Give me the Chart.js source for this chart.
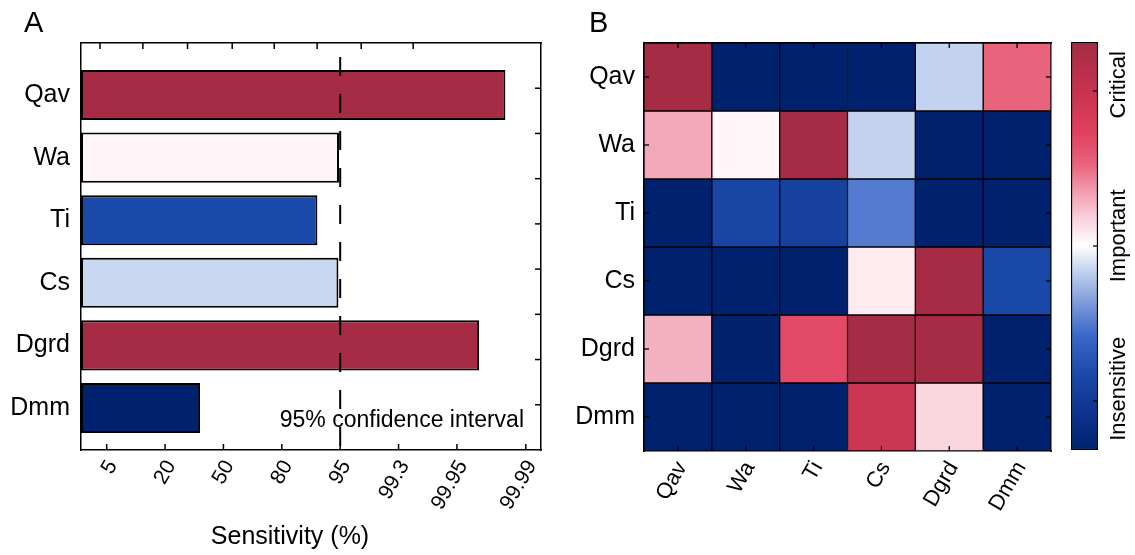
<!DOCTYPE html>
<html>
<head>
<meta charset="utf-8">
<script src="https://cdn.jsdelivr.net/npm/chart.js@4.4.1/dist/chart.umd.min.js"></script>
<style>
  html, body { margin: 0; padding: 0; background: #fff; }
  #wrap { position: relative; width: 1135px; height: 555px; overflow: hidden;
          font-family: "Liberation Sans", Arial, Helvetica, sans-serif; color: #000; }
  #wrap canvas { position: absolute; top: 0; }
  .panel { position: absolute; font-size: 29px; line-height: 29px; }
  #conf { position: absolute; left: 0; width: 524px; top: 408px; text-align: right;
          font-size: 23px; line-height: 23px; }
</style>
</head>
<body>
<div id="wrap">
  <canvas id="cA" width="580" height="555" style="left:0;width:580px;height:555px"></canvas>
  <canvas id="cB" width="502" height="555" style="left:560px;width:502px;height:555px"></canvas>
  <canvas id="cC" width="73" height="555" style="left:1062px;width:73px;height:555px"></canvas>
  <div class="panel" style="left:24px;top:8px">A</div>
  <div class="panel" style="left:589px;top:8px">B</div>
  <div id="conf">95% confidence interval</div>
</div>
<script>
// ---------------- DATA ----------------
const params = ['Qav', 'Wa', 'Ti', 'Cs', 'Dgrd', 'Dmm'];

// Panel A: sensitivity, expressed in position units of the (probability-type) sensitivity axis
const sensitivity = [6.83, 3.98, 3.61, 3.97, 6.38, 1.60];
const sensTickPos = [0, 1, 2, 3, 4, 5, 6, 7.18];
const sensTickLabels = ['5', '20', '50', '80', '95', '99.3', '99.95', '99.99'];
const topTickPos = [-0.115, 0.62, 1.385, 2.15, 2.87, 3.605, 4.36, 5.25];
const rightTickPos = [1, 2, 3, 4, 5, 6, 7, 8];
const confLevel = 4;              // position of the 95 % mark

// Panel B: heat-map (rows = params, columns = params), 0 = insensitive, 0.5 = important, 1 = critical
const heatQav  = [1.00, 0.00, 0.00, 0.00, 0.44, 0.70];
const heatWa   = [0.62, 0.515, 1.00, 0.44, 0.00, 0.00];
const heatTi   = [0.00, 0.17, 0.15, 0.31, 0.00, 0.00];
const heatCs   = [0.00, 0.00, 0.00, 0.53, 1.00, 0.18];
const heatDgrd = [0.61, 0.00, 0.76, 1.00, 1.00, 0.00];
const heatDmm  = [0.00, 0.00, 0.00, 0.86, 0.56, 0.00];
const heatRows = [heatQav, heatWa, heatTi, heatCs, heatDgrd, heatDmm];
const cellPos = [0.5, 1.5, 2.5, 3.5, 4.5, 5.5];

const cbarTickPos = [0.12, 0.5, 0.88];
const cbarLabels = ['Insensitive', 'Important', 'Critical'];
const cbarLabelPos = [0.15, 0.525, 0.895];

// ---------------- STYLE ----------------
const FONT = '"Liberation Sans", Arial, Helvetica, sans-serif';
const barColors = ['#A52C44', '#FFF5F8', '#1A4BAA', '#C8D8F0', '#A52C44', '#00226E'];
const cmapStops = [
  [0.00, '#00226E'], [0.10, '#0E3591'], [0.18, '#1A48A8'], [0.28, '#3A68C8'],
  [0.36, '#7D9ADA'], [0.44, '#C3D3EF'], [0.50, '#FFFFFF'], [0.56, '#FAD6E1'],
  [0.62, '#F2A8BA'], [0.70, '#E8647D'], [0.78, '#E0405E'], [0.88, '#C6334F'],
  [1.00, '#A52C44']
];
function hex2rgb(h) { return [1, 3, 5].map(i => parseInt(h.substr(i, 2), 16)); }
function cmap(t) {
  t = Math.max(0, Math.min(1, t));
  for (let i = 1; i < cmapStops.length; i++) {
    const [t1, c1] = cmapStops[i];
    const [t0, c0] = cmapStops[i - 1];
    if (t <= t1) {
      const f = (t - t0) / (t1 - t0 || 1);
      const a = hex2rgb(c0), b = hex2rgb(c1);
      const c = a.map((v, k) => Math.round(v + (b[k] - v) * f));
      return `rgb(${c[0]},${c[1]},${c[2]})`;
    }
  }
  return cmapStops[cmapStops.length - 1][1];
}

// axis extents (layout)
const X_MIN = -0.44, X_MAX = 7.44;
const Y_MIN = -0.831, Y_MAX = 5.671;

// inward tick marks
const inTicks = {
  id: 'inTicks',
  afterDatasetsDraw(chart, args, opts) {
    const ctx = chart.ctx;
    const len = opts.length || 6;
    ctx.save();
    ctx.strokeStyle = '#000';
    ctx.lineWidth = opts.width || 1.5;
    for (const id of (opts.scales || [])) {
      const s = chart.scales[id];
      if (!s) continue;
      for (const t of s.ticks) {
        const p = s.getPixelForValue(t.value);
        ctx.beginPath();
        if (s.position === 'bottom') { ctx.moveTo(p, s.top); ctx.lineTo(p, s.top - len); }
        else if (s.position === 'top') { ctx.moveTo(p, s.bottom); ctx.lineTo(p, s.bottom + len); }
        else if (s.position === 'left') { ctx.moveTo(s.right, p); ctx.lineTo(s.right + len, p); }
        else { ctx.moveTo(s.left, p); ctx.lineTo(s.left - len, p); }
        ctx.stroke();
      }
    }
    ctx.restore();
  }
};

const noGrid = { display: false, drawTicks: false };
const blackBorder = { display: true, color: '#000', width: 1.5 };

// ---------------- PANEL A ----------------
new Chart(document.getElementById('cA'), {
  type: 'bar',
  data: {
    datasets: [
      {
        type: 'bar', indexAxis: 'y',
        data: params.map((p, i) => ({ x: sensitivity[i], y: i })),
        base: X_MIN,
        backgroundColor: barColors, borderColor: '#000', borderWidth: 2, borderSkipped: false,
        barPercentage: 0.8, categoryPercentage: 1,
        xAxisID: 'x', yAxisID: 'y', order: 2
      },
      {
        type: 'line',
        data: [{ x: confLevel, y: Y_MIN }, { x: confLevel, y: Y_MAX }],
        borderColor: '#000', borderWidth: 2, borderDash: [19, 18], borderDashOffset: 23,
        pointRadius: 0, xAxisID: 'x', yAxisID: 'y', order: 1
      }
    ]
  },
  options: {
    responsive: false, animation: false, events: [],
    layout: { padding: 0 },
    scales: {
      x: {
        type: 'linear', axis: 'x', position: 'bottom', min: X_MIN, max: X_MAX, offset: false,
        afterBuildTicks: s => { s.ticks = sensTickPos.map(v => ({ value: v })); },
        afterFit: s => { s.height = 72; },
        ticks: { autoSkip: false, minRotation: 60, maxRotation: 60, padding: 6, labelOffset: 6,
                 color: '#000', font: { family: FONT, size: 21 }, callback: (v, i) => sensTickLabels[i] },
        grid: noGrid, border: blackBorder
      },
      x2: {
        type: 'linear', axis: 'x', position: 'top', min: X_MIN, max: X_MAX, offset: false,
        afterBuildTicks: s => { s.ticks = topTickPos.map(v => ({ value: v })); },
        afterFit: s => { s.height = 43; },
        ticks: { display: false }, grid: noGrid, border: blackBorder
      },
      y: {
        type: 'linear', axis: 'y', position: 'left', reverse: true, min: Y_MIN, max: Y_MAX, offset: false,
        afterBuildTicks: s => { s.ticks = params.map((p, i) => ({ value: i })); },
        afterFit: s => { s.width = 81; },
        ticks: { padding: 11, color: '#000', font: { family: FONT, size: 25 }, callback: (v, i) => params[i] },
        grid: noGrid, border: blackBorder
      },
      y2: {
        type: 'linear', axis: 'y', position: 'right', min: 0, max: 9, offset: false,
        afterBuildTicks: s => { s.ticks = rightTickPos.map(v => ({ value: v })); },
        afterFit: s => { s.width = 39; },
        ticks: { display: false }, grid: noGrid, border: blackBorder
      }
    },
    plugins: {
      legend: { display: false }, tooltip: { enabled: false },
      title: { display: true, position: 'bottom', text: 'Sensitivity (%)', color: '#000',
               font: { family: FONT, size: 25, weight: 'normal' }, padding: { top: 0, bottom: 3 } },
      inTicks: { scales: ['x', 'x2', 'y2'], length: 6, width: 1.5 }
    }
  },
  plugins: [inTicks]
});

// ---------------- PANEL B (heat map) ----------------
new Chart(document.getElementById('cB'), {
  type: 'bar',
  data: {
    labels: params,
    datasets: params.map((row, r) => ({
      label: row,
      data: params.map(() => 1),
      backgroundColor: heatRows[r].map(cmap),
      borderColor: '#000', borderWidth: 1, borderSkipped: false,
      barPercentage: 1, categoryPercentage: 1, stack: 'cells'
    }))
  },
  options: {
    responsive: false, animation: false, events: [],
    layout: { padding: 0 },
    scales: {
      x: {
        type: 'category', position: 'bottom', offset: true, stacked: true,
        afterFit: s => { s.height = 104; },
        ticks: { autoSkip: false, minRotation: 60, maxRotation: 60, padding: 6, labelOffset: 4,
                 color: '#000', font: { family: FONT, size: 22 } },
        grid: { display: false, drawTicks: false, offset: true }, border: blackBorder
      },
      x2: {
        type: 'category', axis: 'x', position: 'top', offset: true, labels: params,
        afterFit: s => { s.height = 43; },
        ticks: { display: false }, grid: { display: false, drawTicks: false, offset: true }, border: blackBorder
      },
      y: {
        type: 'linear', position: 'left', reverse: true, min: 0, max: 6, stacked: true,
        afterBuildTicks: s => { s.ticks = cellPos.map(v => ({ value: v })); },
        afterFit: s => { s.width = 84; },
        ticks: { padding: 9, color: '#000', font: { family: FONT, size: 25 }, callback: (v, i) => params[i] },
        grid: noGrid, border: blackBorder
      },
      y2: {
        type: 'linear', axis: 'y', position: 'right', reverse: true, min: 0, max: 6,
        afterBuildTicks: s => { s.ticks = cellPos.map(v => ({ value: v })); },
        afterFit: s => { s.width = 11; },
        ticks: { display: false }, grid: noGrid, border: blackBorder
      }
    },
    plugins: {
      legend: { display: false }, tooltip: { enabled: false },
      inTicks: { scales: ['x', 'x2', 'y', 'y2'], length: 5, width: 1.3 }
    }
  },
  plugins: [inTicks]
});

// ---------------- COLOUR BAR ----------------
const cbarText = {
  id: 'cbarText',
  afterDraw(chart, args, opts) {
    const s = chart.scales.y;
    const ctx = chart.ctx;
    ctx.save();
    ctx.fillStyle = '#000';
    ctx.font = `22px ${FONT}`;
    ctx.textAlign = 'center';
    ctx.textBaseline = 'middle';
    cbarLabels.forEach((lab, i) => {
      const y = s.getPixelForValue(cbarLabelPos[i]);
      ctx.save();
      ctx.translate(s.left + 21, y);
      ctx.rotate(-Math.PI / 2);
      ctx.fillText(lab, 0, 0);
      ctx.restore();
    });
    ctx.restore();
  }
};

new Chart(document.getElementById('cC'), {
  type: 'bar',
  data: {
    labels: [''],
    datasets: [{
      data: [[0, 1]],
      backgroundColor: (c) => {
        const area = c.chart.chartArea;
        if (!area) return '#fff';
        const g = c.chart.ctx.createLinearGradient(0, area.bottom, 0, area.top);
        cmapStops.forEach(([t, col]) => g.addColorStop(t, col));
        return g;
      },
      borderColor: '#000', borderWidth: 1.5, borderSkipped: false,
      barPercentage: 1, categoryPercentage: 1
    }]
  },
  options: {
    responsive: false, animation: false, events: [],
    layout: { padding: { left: 9, top: 42, bottom: 105, right: 0 } },
    scales: {
      x: { display: false, offset: true },
      y: {
        type: 'linear', position: 'right', min: 0, max: 1,
        afterBuildTicks: s => { s.ticks = cbarTickPos.map(v => ({ value: v })); },
        afterFit: s => { s.width = 37; },
        ticks: { display: false }, grid: noGrid, border: { display: false }
      }
    },
    plugins: {
      legend: { display: false }, tooltip: { enabled: false },
      inTicks: { scales: ['y'], length: 5, width: 1.3 }
    }
  },
  plugins: [inTicks, cbarText]
});
</script>
</body>
</html>
